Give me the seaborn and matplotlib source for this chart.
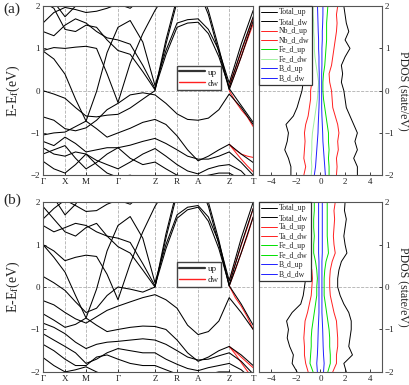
import matplotlib
matplotlib.use("Agg")
import pandas as pd
import seaborn as sns
from matplotlib import pyplot as plt
from matplotlib.lines import Line2D

sns.set_theme(style="ticks")
plt.rcParams['font.family'] = ['Liberation Serif', 'DejaVu Serif']
plt.rcParams['mathtext.fontset'] = 'stix'

# k-path (fraction of path length) and high-symmetry labels
k_ticks = [0, 0.105, 0.205, 0.357, 0.533, 0.638, 0.738, 0.886, 1.0]
k_labels = ['Γ', 'X', 'M', 'Γ', 'Z', 'R', 'A', 'Z', 'T']
k_path = [0, 0.052, 0.105, 0.155, 0.205, 0.255, 0.305, 0.357, 0.415, 0.475,
          0.533, 0.585, 0.638, 0.688, 0.738, 0.787, 0.837, 0.886, 0.943, 1.0]
k_zt = [0.886, 0.915, 0.943, 0.972, 1.0]

# ---- panel (a) bands, spin up ----
a01 = [1.60, 1.85, 1.97, 1.92, 1.85, 1.88, 1.95, 2.05, 1.95, 2.20, 2.50, 2.70, 2.80, 2.80, 2.70, 2.60, 2.50, 2.40, 2.60, 2.90]
a02 = [2.40, 2.10, 1.75, 2.00, 2.30, 2.50, 2.60, 2.60, 2.60, 2.70, 2.80, 2.90, 3.00, 3.00, 3.00, 3.00, 3.00, 3.00, 3.00, 3.00]
a03 = [0.95, 1.02, 1.00, 1.03, 1.05, 1.00, 0.40, -0.28, 0.65, 1.35, 1.90, 2.30, 2.60, 2.70, 2.70, 2.60, 2.40, 2.20, 2.50, 2.80]
a04 = [0.94, 0.75, 0.39, -0.20, -0.72, -0.02, 0.90, 1.50, 1.66, 1.15, 0.12, 0.95, 1.60, 1.68, 1.70, 1.45, 0.95, 0.18, 1.10, 1.90]
a05 = [1.40, 1.30, 1.55, 1.70, 1.60, 1.40, 1.25, 1.20, 1.10, 0.60, 0.05, 0.85, 1.50, 1.60, 1.62, 1.35, 0.80, 0.08, 0.95, 1.75]
a06 = [2.10, 1.95, 1.45, 1.40, 1.55, 1.50, 1.20, 0.95, 0.86, 0.45, 0.02, 1.20, 2.20, 2.60, 2.50, 1.90, 1.00, 0.05, -0.35, -0.75]
a07 = [0.00, -0.08, -0.18, -0.40, -0.60, -0.62, -0.58, -0.56, -0.41, -0.20, 0.00, 1.10, 2.10, 2.50, 2.40, 1.80, 0.90, 0.02, 0.80, 1.65]
a08 = [-0.62, -0.70, -0.90, -0.95, -0.88, -0.70, -0.45, -0.30, -0.10, -0.05, -0.10, -0.30, -0.55, -0.68, -0.70, -0.65, -0.45, -0.08, -0.40, -0.80]
a09 = [-1.05, -1.00, -0.98, -0.85, -0.72, -0.90, -1.10, -1.00, -0.89, -0.75, -0.68, -0.80, -1.07, -1.40, -1.66, -1.55, -1.40, -1.27, -1.50, -1.70]
a10 = [-1.20, -1.30, -1.10, -1.25, -1.45, -1.40, -1.35, -1.35, -1.29, -1.20, -1.13, -1.25, -1.40, -1.55, -1.62, -1.62, -1.55, -1.45, -1.70, -2.00]
a11 = [-1.35, -1.50, -1.55, -1.45, -1.50, -1.65, -1.75, -1.85, -1.69, -1.50, -1.37, -1.55, -1.75, -1.90, -1.97, -1.85, -1.78, -1.75, -1.90, -2.20]
a12 = [-1.50, -1.40, -1.30, -1.60, -1.85, -1.70, -1.50, -1.35, -1.60, -1.75, -1.69, -1.85, -2.00, -2.05, -2.05, -2.00, -1.95, -1.95, -2.10, -2.30]
a13 = [-1.67, -1.85, -1.95, -1.75, -1.50, -1.75, -1.95, -2.05, -2.00, -2.10, -2.20, -2.20, -2.20, -2.20, -2.20, -2.20, -2.20, -2.20, -2.30, -2.40]
# panel (a) spin down where it splits off (Z-T)
ra1 = [0.05, 0.42, 0.80, 1.20, 1.58]
ra2 = [0.15, 0.52, 0.92, 1.32, 1.72]
ra3 = [0.00, -0.25, -0.45, -0.62, -0.85]
ra4 = [-1.27, -1.40, -1.50, -1.55, -1.58]
ra5 = [-1.27, -1.45, -1.62, -1.78, -1.92]

# ---- panel (b) bands, spin up ----
b01 = [1.60, 1.85, 2.05, 1.92, 1.78, 1.80, 1.95, 2.05, 1.95, 2.20, 2.45, 2.60, 2.70, 2.70, 2.60, 2.50, 2.40, 2.30, 2.60, 2.90]
b02 = [2.40, 2.10, 1.70, 1.95, 2.30, 2.50, 2.60, 2.60, 2.60, 2.70, 2.80, 2.90, 3.00, 3.00, 3.00, 3.00, 3.00, 3.00, 3.00, 3.00]
b03 = [1.00, 0.85, 0.62, 0.70, 0.75, 0.72, 0.30, -0.30, 0.55, 1.30, 1.90, 2.30, 2.60, 2.70, 2.70, 2.60, 2.40, 2.20, 2.50, 2.80]
b04 = [1.00, 0.70, 0.35, -0.20, -0.73, -0.05, 0.85, 1.45, 1.66, 1.15, 0.10, 1.00, 1.70, 1.88, 1.92, 1.65, 1.05, 0.15, 1.15, 2.00]
b05 = [1.45, 1.30, 1.40, 1.50, 1.45, 1.30, 1.20, 1.15, 1.05, 0.55, 0.03, 0.90, 1.62, 1.82, 1.88, 1.55, 0.90, 0.05, 1.00, 1.85]
b06 = [1.90, 1.60, 1.30, 1.20, 1.40, 1.50, 1.20, 0.95, 0.80, 0.40, 0.00, 1.25, 2.30, 2.70, 2.60, 2.00, 1.10, 0.03, -0.40, -0.90]
b07 = [0.25, 0.10, -0.08, -0.35, -0.60, -0.50, -0.20, 0.00, -0.05, -0.12, 0.00, 1.15, 2.20, 2.60, 2.50, 1.90, 1.00, 0.02, 0.80, 1.65]
b08 = [-0.32, -0.42, -0.60, -0.75, -0.85, -0.70, -0.55, -0.45, -0.35, -0.25, -0.18, -0.30, -0.50, -0.90, -1.12, -1.05, -0.80, -0.25, -0.60, -1.00]
b09 = [-0.63, -0.78, -0.95, -0.88, -0.73, -0.90, -1.05, -1.00, -0.95, -0.92, -0.93, -1.00, -1.25, -1.55, -1.75, -1.65, -1.50, -1.40, -1.60, -1.85]
b10 = [-0.85, -0.95, -1.10, -1.30, -1.45, -1.35, -1.30, -1.28, -1.25, -1.22, -1.25, -1.35, -1.50, -1.65, -1.72, -1.70, -1.62, -1.55, -1.75, -2.05]
b11 = [-1.10, -1.25, -1.40, -1.55, -1.80, -1.70, -1.55, -1.45, -1.50, -1.55, -1.55, -1.70, -1.82, -1.92, -1.97, -1.90, -1.85, -1.80, -1.95, -2.20]
b12 = [-1.35, -1.50, -1.70, -1.85, -1.85, -1.65, -1.60, -1.70, -1.80, -1.85, -1.85, -1.95, -2.05, -2.10, -2.10, -2.05, -2.00, -2.00, -2.15, -2.30]
b13 = [-1.66, -1.85, -2.00, -1.95, -1.88, -2.00, -2.10, -2.05, -2.10, -2.20, -2.20, -2.20, -2.20, -2.20, -2.20, -2.20, -2.20, -2.20, -2.30, -2.40]
rb1 = [0.03, 0.40, 0.80, 1.20, 1.65]
rb2 = [0.15, 0.55, 0.98, 1.40, 1.85]
rb3 = [0.03, -0.25, -0.45, -0.70, -1.00]
rb4 = [-1.40, -1.52, -1.65, -1.78, -1.90]
rb5 = [-1.40, -1.58, -1.78, -1.98, -2.15]

# ---- PDOS ----
dos_e = [-2.0, -1.8, -1.6, -1.4, -1.2, -1.0, -0.8, -0.6, -0.4, -0.2, 0.0,
         0.2, 0.4, 0.6, 0.8, 1.0, 1.2, 1.4, 1.6, 1.8, 2.0]
tot_up_a = [3.0, 3.0, 2.7, 3.0, 2.8, 3.0, 2.7, 2.4, 2.1, 2.0, 1.9, 1.7, 1.8, 1.7, 2.0, 2.4, 2.0, 2.3, 2.1, 2.0, 1.9]
tot_dw_a = [-2.4, -2.4, -2.6, -2.9, -2.7, -2.6, -2.8, -2.2, -1.9, -1.7, -1.5, -1.4, -1.5, -1.6, -1.8, -2.1, -2.0, -2.1, -2.0, -1.9, -1.8]
nb_up_a = [1.3, 1.35, 1.3, 1.45, 1.4, 1.5, 1.4, 1.2, 1.0, 0.95, 0.9, 0.75, 0.7, 0.9, 1.0, 1.1, 1.2, 1.3, 1.35, 1.3, 1.4]
nb_dw_a = [-1.35, -1.2, -1.35, -1.3, -1.25, -1.3, -1.2, -1.0, -0.9, -0.8, -0.8, -0.7, -0.7, -0.8, -0.9, -1.0, -1.1, -1.15, -1.2, -1.25, -1.25]
fe_up_a = [0.7, 0.7, 0.65, 0.7, 0.65, 0.65, 0.55, 0.45, 0.35, 0.25, 0.2, 0.2, 0.25, 0.35, 0.4, 0.45, 0.5, 0.5, 0.5, 0.55, 0.6]
fe_dw_a = [-0.75, -0.7, -0.75, -0.7, -0.7, -0.65, -0.55, -0.45, -0.35, -0.25, -0.2, -0.15, -0.25, -0.35, -0.45, -0.5, -0.5, -0.55, -0.55, -0.6, -0.6]
bb_up_a = [0.4, 0.35, 0.3, 0.25, 0.2, 0.18, 0.15, 0.12, 0.1, 0.1, 0.1, 0.1, 0.1, 0.12, 0.12, 0.12, 0.15, 0.15, 0.18, 0.2, 0.2]
bb_dw_a = [-0.5, -0.4, -0.35, -0.3, -0.25, -0.2, -0.18, -0.15, -0.12, -0.1, -0.1, -0.1, -0.1, -0.12, -0.12, -0.15, -0.15, -0.18, -0.2, -0.22, -0.24]

tot_up_b = [2.1, 1.9, 2.6, 2.3, 2.4, 2.5, 2.5, 2.3, 1.9, 1.6, 1.4, 1.4, 1.5, 1.7, 2.15, 2.0, 1.9, 2.0, 2.1, 1.95, 2.0]
tot_dw_b = [-1.9, -2.3, -2.2, -2.5, -2.7, -2.6, -2.75, -2.3, -1.6, -1.4, -1.3, -1.2, -1.3, -1.5, -1.6, -1.7, -1.55, -1.6, -1.7, -1.5, -1.5]
ta_up_b = [1.0, 1.3, 1.3, 1.4, 1.4, 1.35, 1.3, 1.1, 0.95, 0.8, 0.75, 0.75, 0.8, 0.95, 1.2, 1.1, 1.05, 1.1, 1.15, 1.1, 1.2]
ta_dw_b = [-1.0, -1.2, -1.3, -1.3, -1.35, -1.3, -1.25, -1.05, -0.9, -0.75, -0.7, -0.65, -0.7, -0.85, -1.0, -1.0, -0.95, -1.0, -1.05, -1.0, -1.1]
fe_up_b = [0.6, 0.8, 0.8, 0.75, 0.75, 0.7, 0.6, 0.5, 0.4, 0.3, 0.3, 0.3, 0.35, 0.45, 0.65, 0.6, 0.55, 0.55, 0.55, 0.55, 0.55]
fe_dw_b = [-0.6, -0.85, -0.8, -0.75, -0.75, -0.7, -0.6, -0.5, -0.4, -0.3, -0.3, -0.25, -0.3, -0.4, -0.55, -0.55, -0.5, -0.55, -0.55, -0.5, -0.5]
bb_up_b = [0.25, 0.3, 0.25, 0.22, 0.2, 0.18, 0.15, 0.12, 0.12, 0.12, 0.12, 0.12, 0.12, 0.12, 0.15, 0.15, 0.15, 0.15, 0.15, 0.15, 0.15]
bb_dw_b = [-0.25, -0.3, -0.25, -0.22, -0.2, -0.18, -0.15, -0.12, -0.12, -0.12, -0.12, -0.12, -0.12, -0.12, -0.15, -0.15, -0.15, -0.15, -0.15, -0.15, -0.15]

RED = '#ff2020'
GREEN = '#00e000'
LIGHTGREEN = '#a0f0a0'
BLUE = '#2020ff'
SPINE = '#555555'
GRID = '#b0b0b0'


def band_frame(k, bands):
    parts = [pd.DataFrame({'k': k, 'E': b, 'band': i}) for i, b in enumerate(bands)]
    return pd.concat(parts, ignore_index=True)


def style_axes(ax):
    for s in ax.spines.values():
        s.set_color(SPINE)
        s.set_linewidth(0.8)
    ax.tick_params(direction='in', length=2, width=0.6, labelsize=6.5, pad=2, colors='#222222')


def draw_bands(ax, up_bands, dw_bands):
    sns.lineplot(data=band_frame(k_zt, dw_bands), x='k', y='E', units='band',
                 estimator=None, color=RED, lw=0.75, ax=ax, legend=False)
    sns.lineplot(data=band_frame(k_path, up_bands), x='k', y='E', units='band',
                 estimator=None, color='black', lw=0.75, ax=ax, legend=False)
    for kt in k_ticks[1:-1]:
        ax.axvline(kt, color=GRID, ls='--', lw=0.6, zorder=0)
    ax.axhline(0, color=GRID, ls='--', lw=0.6, zorder=0)
    ax.set_xlim(0, 1)
    ax.set_ylim(-2, 2)
    ax.set_xticks(k_ticks)
    ax.set_xticklabels(k_labels)
    ax.set_yticks([-2, -1, 0, 1, 2])
    ax.set_xlabel('')
    ax.set_ylabel('E-E$_\\mathrm{f}$(eV)', fontsize=10, labelpad=6)
    style_axes(ax)
    handles = [Line2D([], [], color='#333333', lw=1.6), Line2D([], [], color=RED, lw=1.0)]
    ax.legend(handles, ['up', 'dw'], loc='upper left', bbox_to_anchor=(0.615, 0.675),
              fontsize=6.5, handlelength=2.8, handletextpad=0.3, borderpad=0.3,
              labelspacing=0.3, frameon=True, fancybox=False, edgecolor='#444444',
              framealpha=1)


def draw_dos(ax, series):
    for vals, color, name in series:
        sns.lineplot(x=vals, y=dos_e, sort=False, orient='y', estimator=None,
                     color=color, lw=0.7, ax=ax, label=name)
    ax.axhline(0, color=GRID, ls='--', lw=0.6, zorder=0)
    ax.set_xlim(-5, 5)
    ax.set_ylim(-2, 2)
    ax.set_xticks([-4, -2, 0, 2, 4])
    ax.set_yticks([-2, -1, 0, 1, 2])
    ax.yaxis.tick_right()
    ax.yaxis.set_label_position('right')
    ax.set_ylabel('PDOS (state/eV)', fontsize=8.5, rotation=270, labelpad=10)
    ax.set_xlabel('')
    style_axes(ax)
    leg = ax.legend(loc='upper left', fontsize=5.6, handlelength=2.0, handletextpad=0.3,
                    borderpad=0.3, labelspacing=0.18, borderaxespad=0, frameon=True,
                    fancybox=False, edgecolor='#333333', framealpha=1)
    leg.get_frame().set_linewidth(0.9)


fig = plt.figure(figsize=(4.09, 3.85), dpi=100)
ax_ba = fig.add_axes([0.105, 0.545, 0.514, 0.439])
ax_da = fig.add_axes([0.633, 0.545, 0.301, 0.439])
ax_bb = fig.add_axes([0.105, 0.034, 0.514, 0.441])
ax_db = fig.add_axes([0.633, 0.034, 0.301, 0.441])

draw_bands(ax_ba, [a01, a02, a03, a04, a05, a06, a07, a08, a09, a10, a11, a12, a13],
           [ra1, ra2, ra3, ra4, ra5])
draw_bands(ax_bb, [b01, b02, b03, b04, b05, b06, b07, b08, b09, b10, b11, b12, b13],
           [rb1, rb2, rb3, rb4, rb5])

draw_dos(ax_da, [(tot_up_a, 'black', 'Total_up'), (tot_dw_a, 'black', 'Total_dw'),
                 (nb_up_a, RED, 'Nb_d_up'), (nb_dw_a, RED, 'Nb_d_dw'),
                 (fe_up_a, GREEN, 'Fe_d_up'), (fe_dw_a, LIGHTGREEN, 'Fe_d_dw'),
                 (bb_up_a, BLUE, 'B_d_up'), (bb_dw_a, BLUE, 'B_d_dw')])
draw_dos(ax_db, [(tot_up_b, 'black', 'Total_up'), (tot_dw_b, 'black', 'Total_dw'),
                 (ta_up_b, RED, 'Ta_d_up'), (ta_dw_b, RED, 'Ta_d_dw'),
                 (fe_up_b, GREEN, 'Fe_d_up'), (fe_dw_b, GREEN, 'Fe_d_dw'),
                 (bb_up_b, BLUE, 'B_d_up'), (bb_dw_b, BLUE, 'B_d_dw')])

fig.text(0.008, 0.993, '(a)', fontsize=11, va='top')
fig.text(0.008, 0.497, '(b)', fontsize=11, va='top')

fig.savefig('out.png', dpi=100)
